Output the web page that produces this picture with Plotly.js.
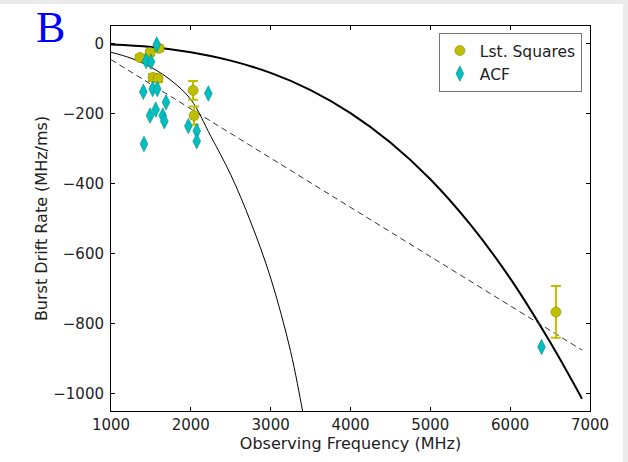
<!DOCTYPE html>
<html><head><meta charset="utf-8">
<script src="https://cdn.plot.ly/plotly-3.0.1.min.js"></script>
<style>
html,body{margin:0;padding:0;background:#ebebeb;width:628px;height:462px;overflow:hidden}
#chart{position:absolute;left:0;top:4px;width:623px;height:458px;background:#fff}
</style>
</head><body><div id="chart"></div>
<script>
// Least-squares drift rates (MHz/ms) with errors
const lsqFreq = [1363, 1489, 1602, 1526, 1589, 2028, 2040, 6573];
const lsqRate = [-40, -26, -14, -97, -100, -134, -206, -767];
const lsqErr  = [8, 8, 8, 10, 10, 27, 26, 74];

// ACF drift rates (MHz/ms)
const acfFreq = [1573, 1439, 1501, 1405, 1522, 1580, 1689, 1560, 1489, 1648, 1668, 1413, 2219, 1969, 2074, 2074, 6393];
const acfRate = [-3, -50, -52, -138, -130, -130, -168, -189, -206, -206, -222, -287, -143, -236, -250, -279, -867];

// Fit curves
const fitAFreq = [1000, 1500, 2000, 2500, 3000, 3500, 4000, 4500, 5000, 5500, 6000, 6500, 6900];
const fitARate = [-3, -10, -25, -49, -84, -133, -199, -283, -388, -517, -671, -853, -1015];
const fitBFreq = [1000, 1250, 1500, 1750, 2000, 2250, 2500, 2750, 3000, 3250, 3400, 3450];
const fitBRate = [-25, -42, -68, -105, -160, -265, -375, -510, -670, -880, -1050, -1110];
const fitCFreq = [1000, 6900];
const fitCRate = [-46, -876];

const xTicks = [1000, 2000, 3000, 4000, 5000, 6000, 7000];
const yTicks = [-1000, -800, -600, -400, -200, 0];

const olive = '#bfbf00';
const cyan = '#00bfbf';

const traces = [
  {x: fitAFreq, y: fitARate, mode: 'lines', line: {color: '#000', width: 2, shape: 'spline'}, showlegend: false, hoverinfo: 'skip'},
  {x: fitBFreq, y: fitBRate, mode: 'lines', line: {color: '#000', width: 1, shape: 'spline'}, showlegend: false, hoverinfo: 'skip'},
  {x: fitCFreq, y: fitCRate, mode: 'lines', line: {color: '#333', width: 1, dash: '6px,4px'}, showlegend: false, hoverinfo: 'skip'},
  {x: lsqFreq, y: lsqRate, mode: 'markers', name: 'Lst. Squares',
   marker: {symbol: 'circle', size: 10, color: olive, line: {color: '#8a8a00', width: 0.6}},
   error_y: {type: 'data', array: lsqErr, visible: true, color: olive, thickness: 2, width: 5}},
  {x: acfFreq, y: acfRate, mode: 'markers', name: 'ACF',
   marker: {symbol: 'diamond-tall', size: 11, color: cyan, line: {color: '#008a8a', width: 0.6}}}
];

const axisCommon = {
  showgrid: false, zeroline: false, showline: true, linecolor: '#000', linewidth: 1,
  ticks: 'inside', ticklen: 4, tickcolor: '#000', mirror: 'ticks',
  tickfont: {family: 'DejaVu Sans', size: 15, color: '#222'}
};

const layout = {
  width: 623, height: 458,
  margin: {l: 111, r: 33, t: 22, b: 51},
  paper_bgcolor: '#fff', plot_bgcolor: '#fff',
  font: {family: 'DejaVu Sans', color: '#222'},
  xaxis: Object.assign({}, axisCommon, {range: [1000, 7000], tickvals: xTicks,
    title: {text: 'Observing Frequency (MHz)', font: {family: 'DejaVu Sans', size: 16, color: '#222'}, standoff: 0}}),
  yaxis: Object.assign({}, axisCommon, {range: [-1050, 50], tickvals: yTicks, ticklabelstandoff: 3,
    title: {text: 'Burst Drift Rate (MHz/ms)', font: {family: 'DejaVu Sans', size: 16, color: '#222'}, standoff: 1}}),
  legend: {x: 0.983, y: 0.982, xanchor: 'right', yanchor: 'top',
    bgcolor: '#fff', bordercolor: '#777', borderwidth: 1,
    font: {family: 'DejaVu Sans', size: 15.5, color: '#222'}, tracegroupgap: 0},
  annotations: [{text: 'B', xref: 'paper', yref: 'paper', x: -0.127, y: 0.995,
    xanchor: 'center', yanchor: 'middle', showarrow: false,
    font: {family: 'Liberation Serif', size: 44, color: '#0000ff'}}]
};

Plotly.newPlot('chart', traces, layout, {displayModeBar: false, staticPlot: true});
</script>
</body></html>
